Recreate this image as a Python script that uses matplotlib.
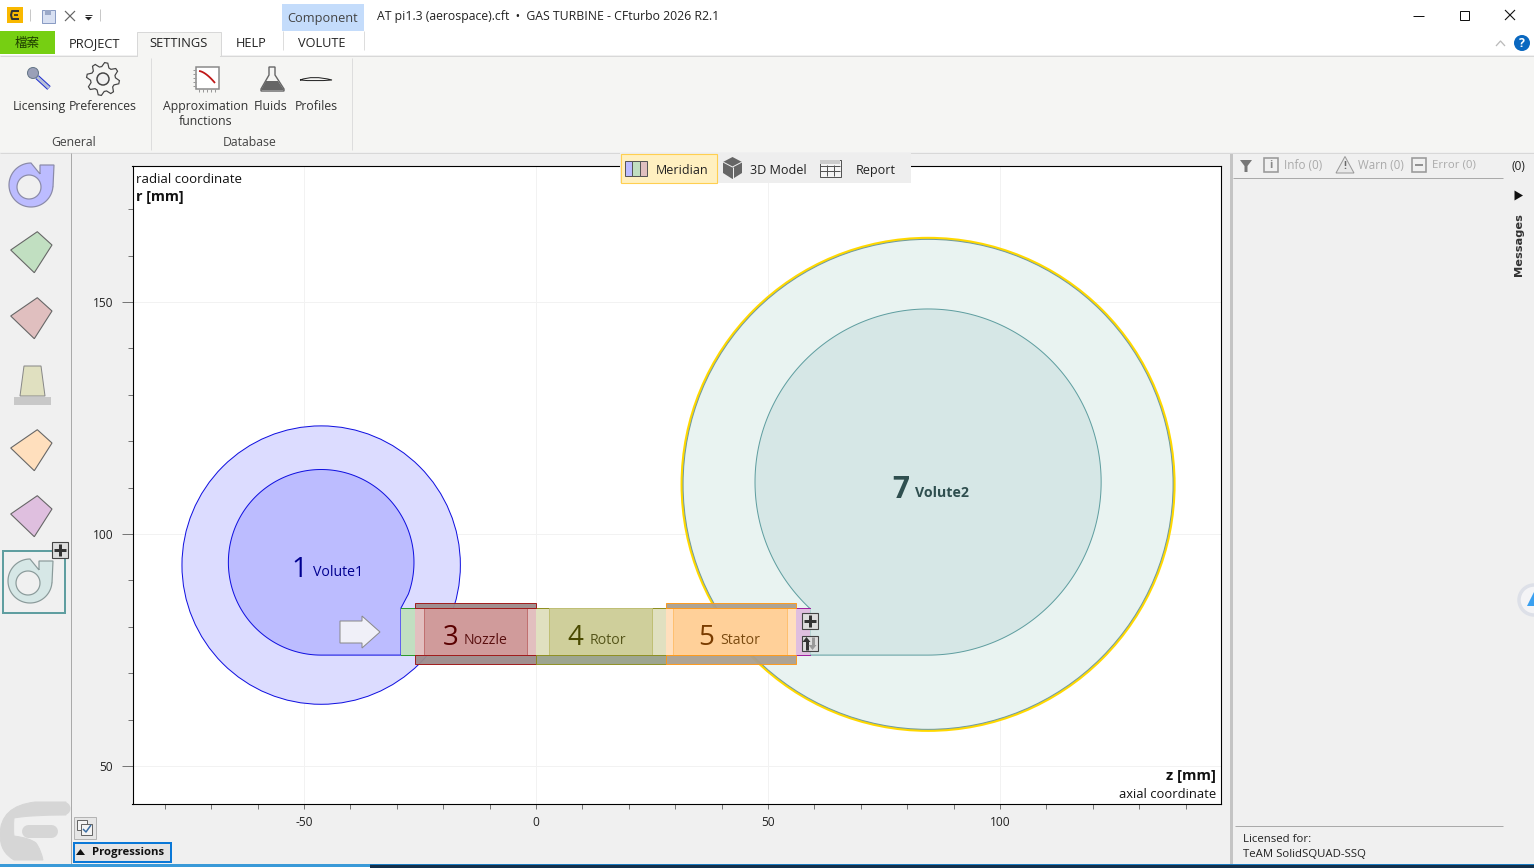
import numpy as np
import matplotlib
matplotlib.use("Agg")
import matplotlib.pyplot as plt
from matplotlib.patches import Circle, Rectangle, Polygon, PathPatch
from matplotlib.path import Path

plt.rcParams['font.family'] = ['Open Sans', 'Noto Sans CJK TC', 'DejaVu Sans']

# ---------- chart data (mm) ----------
x_major = [-50, 0, 50, 100]
x_labels = ['-50', '0', '50', '100']
y_major = [50, 100, 150]
y_labels = ['50', '100', '150']
x_minor = [-80, -70, -60, -40, -30, -20, -10, 10, 20, 30, 40, 60, 70, 80, 90, 110, 120, 130, 140]
y_minor = [60, 70, 80, 90, 110, 120, 130, 140, 160, 170]

r_hub = 73.9
r_shroud = 84.05
r_bar_top = 85.1
r_bar_bottom = 72.0

comp_names = ['Inlet', 'Nozzle', 'Rotor', 'Stator', 'Outlet']
comp_z0 = [-29.1, -26.1, 0.0, 28.0, 56.0]
comp_z1 = [-26.1, 0.0, 28.0, 56.0, 59.0]
comp_fill = ['#c1dfc1', '#e2bfbf', '#e0e0c0', '#ffdfbd', '#dfbfdf']
comp_line = ['#2e9a2e', '#a01818', '#8f8f20', '#ff9a1a', '#a020a0']
core_z0 = [None, -24.1, 2.8, 29.5, None]
core_z1 = [None, -2.0, 25.0, 54.0, None]
core_fill = [None, '#d09b9b', '#cfcf9b', '#ffd099', None]
core_line = [None, '#c07070', '#bfbf75', '#ffc070', None]
bar_fill = [None, '#9c8a8a', '#98a08a', '#aa9f8f', None]
bar_top = [False, True, False, True, False]

vol1_center = (-46.3, 93.3)
vol1_outer = 30.0
vol1_inner_center = (-46.3, 93.9)
vol1_inner = 20.0
vol2_center = (84.5, 110.7)
vol2_outer = 52.8
vol2_inner_center = (84.5, 111.2)
vol2_inner = 37.3

lab_num = ['1', '3', '4', '5', '7']
lab_name = ['Volute1', 'Nozzle', 'Rotor', 'Stator', 'Volute2']
lab_z_num = [-52.6, -20.0, 6.8, 34.9, 76.7]
lab_z_name = [-48.1, -15.5, 11.6, 39.7, 81.6]
lab_r = [92.3, 77.6, 77.6, 77.6, 109.4]
lab_r_name = [91.6, 77.0, 77.0, 77.0, 108.9]
lab_col = ['#000090', '#5a0000', '#4a4a00', '#7a3c00', '#2f4f4f']
lab_col2 = ['#000090', '#5a1010', '#55551a', '#7a4a10', '#2f4f4f']
lab_bold = [False, False, False, False, True]

W, H = 1534, 868
PX = 0.72
fig = plt.figure(figsize=(W / 100, H / 100), dpi=100, facecolor='#f0f0f0')

# ---------- main axes ----------
L, T_, R, B = 132.5, 165.5, 1220.5, 803.5
ax = fig.add_axes([L / W, 1 - B / H, (R - L) / W, (B - T_) / H], facecolor='white', zorder=1)
ax.set_xlim((L - 536) / 4.64, (R - 536) / 4.64)
ax.set_ylim(100 - (B - 534) / 4.64, 100 + (534 - T_) / 4.64)
ax.set_xticks(x_major, x_labels)
ax.set_yticks(y_major, y_labels)
ax.set_xticks(x_minor, minor=True)
ax.set_yticks(y_minor, minor=True)
ax.tick_params(which='major', length=8, width=PX, color='#777777', labelsize=8.6, pad=6, labelcolor='#222222')
ax.tick_params(which='minor', length=3.5, width=PX, color='#777777')
ax.tick_params(axis='x', which='major', length=3.5, pad=5.5)
ax.grid(True, which='major', color='#f2f2f2', lw=PX)
ax.set_axisbelow(True)
for s in ax.spines.values():
    s.set_color('black')
    s.set_linewidth(PX * 1.1)


def arc_path(center, radius, t0, t1, extra):
    th = np.radians(np.linspace(t0, t1, 240))
    pts = np.column_stack([center[0] + radius * np.cos(th), center[1] + radius * np.sin(th)])
    return np.vstack([pts, extra])


# volute 1
ax.add_patch(Circle(vol1_center, vol1_outer, fc='#dcdcff', ec='#1010e0', lw=PX, zorder=2))
ax.add_patch(Polygon(arc_path(vol1_inner_center, vol1_inner, -90, -380,
                              [[comp_z0[0], r_shroud], [comp_z0[0], r_hub]]),
                     closed=True, fc='#bcbcff', ec='#1010e0', lw=PX, zorder=3))
# volute 2
ax.add_patch(Circle(vol2_center, vol2_outer + 0.25, fc='none', ec='#ffd800', lw=2.0, zorder=2))
ax.add_patch(Circle(vol2_center, vol2_outer, fc='#e9f3f1', ec='#6f9a9c', lw=PX, zorder=2))
ax.add_patch(Polygon(arc_path(vol2_inner_center, vol2_inner, -90, 226.7,
                              [[comp_z1[4], r_shroud], [comp_z1[4], r_hub]]),
                     closed=True, fc='#d6e7e6', ec='#5f9ea0', lw=PX, zorder=3))

# blade-row blocks
for i in range(len(comp_names)):
    z0, z1 = comp_z0[i], comp_z1[i]
    ax.add_patch(Rectangle((z0, r_hub), z1 - z0, r_shroud - r_hub, fc=comp_fill[i], ec='none', zorder=4))
    ax.plot([z0, z1], [r_shroud, r_shroud], color=comp_line[i], lw=PX, zorder=5)
    ax.plot([z0, z1], [r_hub, r_hub], color=comp_line[i], lw=PX, zorder=5)
    if core_z0[i] is not None:
        ax.add_patch(Rectangle((core_z0[i], r_hub), core_z1[i] - core_z0[i], r_shroud - r_hub,
                               fc=core_fill[i], ec=core_line[i], lw=PX, zorder=5))
        ax.add_patch(Rectangle((z0, r_bar_bottom), z1 - z0, r_hub - r_bar_bottom,
                               fc=bar_fill[i], ec=comp_line[i], lw=PX, alpha=0.95, zorder=6))
        if bar_top[i]:
            ax.add_patch(Rectangle((z0, r_shroud), z1 - z0, r_bar_top - r_shroud,
                                   fc=bar_fill[i], ec=comp_line[i], lw=PX, alpha=0.95, zorder=6))

for i in range(len(lab_num)):
    big = 21.5 if lab_bold[i] else 20
    ax.text(lab_z_num[i], lab_r[i], lab_num[i], fontsize=big, color=lab_col[i], va='center', ha='left',
            fontweight='bold' if lab_bold[i] else 'normal', zorder=8)
    ax.text(lab_z_name[i], lab_r_name[i], lab_name[i], fontsize=10.2, color=lab_col2[i], va='center', ha='left',
            fontweight='bold' if lab_bold[i] else 'normal', zorder=8)

# ---------- overlay with application chrome (pixel coordinates) ----------
ui = fig.add_axes([0, 0, 1, 1], zorder=10)
ui.set_xlim(0, W)
ui.set_ylim(H, 0)
ui.axis('off')
ui.patch.set_visible(False)


def rect(x0, y0, x1, y1, fc='none', ec='none', lw=1, z=1, **k):
    ui.add_patch(Rectangle((x0, y0), x1 - x0, y1 - y0, fc=fc, ec=ec, lw=lw * PX, zorder=z, **k))


def line(xs, ys, c='#999999', lw=1, z=2, **k):
    ui.plot(xs, ys, color=c, lw=lw * PX, zorder=z, solid_capstyle=k.pop('cap', 'butt'), **k)


def poly(pts, fc='none', ec='none', lw=1, z=2):
    ui.add_patch(Polygon(pts, closed=True, fc=fc, ec=ec, lw=lw * PX, zorder=z))


def txt(x, y, s, size=9, c='#222222', ha='left', **k):
    ui.text(x, y + 1.3, s, fontsize=size, color=c, ha=ha, va='center', zorder=6, **k)


# axis captions
txt(136, 178, 'radial coordinate', 9.5, '#111111')
txt(136, 196, 'r [mm]', 10.3, '#111111', fontweight='bold')
txt(1216, 775, 'z [mm]', 10.6, '#111111', ha='right', fontweight='bold')
txt(1216, 793, 'axial coordinate', 9.4, '#111111', ha='right')

# title + ribbon bands
rect(0, 0, W, 55, fc='white', z=0)
rect(0, 56, W, 152, fc='#f5f5f3', z=0)
line([0, W], [55.5, 55.5], '#d8d8d8')
line([0, W], [152.5, 152.5], '#d8d8d8')

# quick access bar
rect(7, 7, 23, 23, fc='#f9b800')
line([19, 12, 11, 12, 19], [11, 11, 15, 19, 19], '#333333', 2, z=3)
line([14, 18], [15, 15], '#333333', 1.8, z=3)
line([30, 30], [9, 21], '#c8c8c8')
rect(41.5, 9.5, 54.5, 22.5, fc='#d8e0f2', ec='#8a9cc4')
rect(45, 9.5, 51, 15, fc='#9aa8c8')
line([65, 75], [11, 21], '#666666', 1.2)
line([65, 75], [21, 11], '#666666', 1.2)
line([85, 92], [14.5, 14.5], '#333333', 1)
poly([(85, 17), (92, 17), (88.5, 20.5)], fc='#222222')
line([100, 100], [9, 21], '#c8c8c8')

rect(282, 4, 364, 31, fc='#c4dcfb')
txt(323, 17, 'Component', 9.2, '#444444', ha='center')
txt(377, 15, 'AT pi1.3 (aerospace).cft  •  GAS TURBINE - CFturbo 2026 R2.1', 8.8, '#222222')

# tabs
rect(0, 31, 55, 54, fc='#76cf12')
txt(27, 42.5, '檔案', 9, '#1c3a00', ha='center', family=['Noto Sans CJK TC', 'DejaVu Sans'])
rect(136.5, 31.5, 220.5, 56, fc='#f5f5f3', ec='#d8d8d8', z=2)
rect(138, 50, 220, 57, fc='#f5f5f3', z=3)
line([282.5, 282.5], [31, 50], '#dddddd')
line([363.5, 363.5], [31, 50], '#dddddd')
txt(95, 42, 'PROJECT', 9.3, ha='center')
txt(178.5, 42, 'SETTINGS', 9.3, ha='center')
txt(251, 42, 'HELP', 9.2, ha='center')
txt(322, 42, 'VOLUTE', 9.2, ha='center')

# window controls
line([1413, 1424], [15.5, 15.5], '#111111', 1)
rect(1459.5, 10.5, 1468.5, 19.5, ec='#111111')
line([1505, 1515], [10, 20], '#111111', 1.1)
line([1505, 1515], [20, 10], '#111111', 1.1)
line([1496, 1500.5, 1505], [46, 41, 46], '#bbbbbb', 1.3)
ui.add_patch(Circle((1522, 43), 8, fc='#0a68c0', ec='none', zorder=3))
txt(1522, 42, '?', 9, 'white', ha='center', fontweight='bold')

# ribbon contents
line([150.5, 150.5], [58, 150], '#dddddd')
line([351.5, 351.5], [58, 150], '#dddddd')
for x, y, s in [(39, 105, 'Licensing'), (103, 105, 'Preferences'), (205.5, 105, 'Approximation'),
                (205.5, 120, 'functions'), (271, 105, 'Fluids'), (316, 105, 'Profiles'),
                (74, 141, 'General'), (250, 141, 'Database')]:
    txt(x, y, s, 8.8, '#444444' if s in ('General', 'Database') else '#333333', ha='center')
# key
line([37, 49], [77, 88], '#2030d0', 5, z=2)
line([37, 49], [77, 88], '#b8c0d8', 3, z=3)
ui.add_patch(Circle((33, 73), 5.5, fc='#9aa0b8', ec='#667788', lw=PX, zorder=4))
# gear
teeth = 8
ang = np.radians(np.arange(0, 360, 360 / (4 * teeth)) + 360 / (8 * teeth))
rad = np.tile([16.5, 16.5, 12.5, 12.5], teeth)
gx = 103 + rad * np.cos(ang)
gy = 79 + rad * np.sin(ang)
poly(np.column_stack([gx, gy]), fc='#f5f5f3', ec='#444444', lw=1.2)
ui.add_patch(Circle((103, 79), 6, fc='#f0f0f0', ec='#444444', lw=1.5 * PX, zorder=3))
# approximation icon
rect(196, 67, 219, 89, fc='white', ec='#888888', lw=1.5)
th = np.linspace(0, 1, 20)
line(199 + th * 16, 71 + 12 * th ** 1.6, '#c01818', 1.8, z=3)
for k in range(5):
    line([199 + 4 * k] * 2, [89, 92], '#999999')
    line([193, 196], [70 + 4 * k] * 2, '#999999')
# flask
poly([(269, 67), (275, 67), (275, 75), (284, 89), (284, 91), (261, 91), (261, 89), (269, 75)],
     fc='#f5f5f3', ec='#666666', lw=1.4)
poly([(266, 81), (278, 81), (284, 90), (261, 90)], fc='#666666', z=3)
# airfoil
ui.add_patch(PathPatch(Path([(300, 80), (313, 75), (332, 80), (314, 81.5), (300, 80)],
                            [Path.MOVETO, Path.CURVE3, Path.CURVE3, Path.CURVE3, Path.CURVE3]),
                       fc='#f5f5f3', ec='#222222', lw=PX, zorder=3))

# left rail + separators
line([71.0, 71.0], [153, 864], '#aaaaaa')
kite = np.array([(10.7, 250), (37.3, 231.7), (52, 245), (34.3, 272.7)])
for dy, c in zip([0, 66, 198, 264], ['#c1dfc1', '#e0bfbf', '#ffdfbd', '#dfbfdf']):
    poly(kite + [0, dy], fc=c, ec='#666666', lw=1.1)
poly([(24, 366), (41, 366), (45, 396), (20, 396)], fc='#e0e0c0', ec='#888888')
rect(14, 397, 51, 405, fc='#c8c8c8')


def volute_icon(dx, dy, fc, ec):
    t = np.radians(np.linspace(5, 270, 70))
    outer = np.column_stack([31 + dx + 22 * np.cos(t), 185 + dy + 22 * np.sin(t)])
    head = np.array([(40 + dx, 174 + dy), (40 + dx, 165 + dy), (54 + dx, 165 + dy), (53 + dx, 187 + dy)])
    pts = np.vstack([head, outer, head[:1]])
    hole_t = np.radians(np.linspace(360, 0, 60))
    hole = np.column_stack([29 + dx + 12 * np.cos(hole_t), 187 + dy + 12 * np.sin(hole_t)])
    path = Path.make_compound_path(Path(pts), Path(hole))
    ui.add_patch(PathPatch(path, fc=fc, ec=ec, lw=1.2 * PX, zorder=3))


volute_icon(0, 0, '#bcbcff', '#8a8aa8')
rect(2.5, 550.5, 65, 613, ec='#5f9ea0', lw=2, z=2)
volute_icon(-1, 396, '#d6e7e6', '#8a9a9a')


def plus_button(cx, cy):
    rect(cx - 8, cy - 8, cx + 8, cy + 8, fc='#dddddd', ec='#444444', lw=1.1, z=7)
    line([cx - 6, cx + 6], [cy, cy], '#333333', 3, z=8)
    line([cx, cx], [cy - 6, cy + 6], '#333333', 3, z=8)


plus_button(59.5, 549.5)
plus_button(809.5, 620.5)
rect(801.5, 635.5, 817.5, 651, fc='#dddddd', ec='#444444', lw=1.1, z=7)
line([806.5, 806.5], [641, 650], '#333333', 3, z=8)
poly([(802.5, 642), (810.5, 642), (806.5, 637)], fc='#333333', z=8)
line([812.5, 812.5], [637, 646], '#999999', 3, z=8)
poly([(808.5, 645), (816.5, 645), (812.5, 650)], fc='#999999', z=8)

# inflow arrow
poly([(340, 621), (362, 621), (362, 616), (380, 632), (362, 648), (362, 643), (340, 643)],
     fc='#f0f0f8', ec='#8a8a8a', z=4)

# view selector
rect(620, 153, 911, 183, fc='#eeeeee', z=2)
rect(620.5, 153.5, 716.5, 182.5, fc='#fff0c0', ec='#ffcf50', lw=1.1, z=3)
for x0, c in zip([625, 632, 639.5], ['#bcbcff', '#c1dfc1', '#e0bfbf']):
    rect(x0, 161, x0 + 7.5, 176, fc=c, ec='#555555', z=4)
txt(656, 169, 'Meridian', 9)
poly([(732.5, 157), (742, 162), (742, 173), (732.5, 179), (723, 173), (723, 162)], fc='#666666', z=4)
line([723, 732.5, 742], [162, 167, 162], '#eeeeee', z=5)
line([732.5, 732.5], [167, 179], '#eeeeee', z=5)
txt(750, 169, '3D Model', 9.1)
rect(819.5, 160, 840.5, 176.5, fc='#f4f4f4', ec='#555555', z=4)
rect(820, 160, 840, 164, fc='#cccccc', z=4)
for y in [165, 170]:
    line([820, 840], [y + .5, y + .5], '#555555', z=5)
for x in [826.5, 833.5]:
    line([x, x], [165, 176], '#555555', z=5)
txt(856, 169, 'Report', 9.1)

# right panel
rect(1230, 153, 1233, 864, fc='#c4c4c4')
poly([(1240, 160), (1252, 160), (1247.5, 166), (1247.5, 172), (1244.5, 172), (1244.5, 166)], fc='#777777')
rect(1264, 158, 1278, 172, ec='#999999', lw=1.6)
txt(1271, 164, 'i', 8, '#888888', ha='center', fontweight='bold')
txt(1284, 164, 'Info (0)', 8.5, '#aaaaaa')
poly([(1345, 156.5), (1354, 173), (1336, 173)], fc='#e8e8e8', ec='#999999')
txt(1345, 165.5, '!', 7.5, '#666666', ha='center', fontweight='bold')
txt(1358, 164, 'Warn (0)', 8.4, '#aaaaaa')
rect(1412, 158, 1426, 172, ec='#999999', lw=1.6)
line([1415, 1423], [165, 165], '#888888', 1.8)
txt(1432, 164, 'Error (0)', 8.2, '#aaaaaa')
line([1233, 1503], [177.5, 177.5], '#aaaaaa')
txt(1518, 165, '(0)', 8.6, '#222222', ha='center')
poly([(1514.5, 190.5), (1523, 195.5), (1514.5, 200.5)], fc='#111111')
ui.text(1519, 245, 'Messages', fontsize=8.2, color='#333333', rotation=90, ha='center', va='center',
        fontweight='bold', family=['DejaVu Sans'], zorder=6)
line([1235, 1503], [825.5, 825.5], '#aaaaaa')
txt(1243, 838, 'Licensed for:', 8.2, '#222222')
txt(1243, 853, 'TeAM SolidSQUAD-SSQ', 8.2, '#222222')
ui.add_patch(Circle((1534, 600), 15, fc='#f4f4f6', ec='#dde0e8', lw=2.5, zorder=3))
poly([(1527, 606), (1534, 592), (1534, 606)], fc='#3aa0f0', z=4)

# watermark logo
g = '#d6d6d6'
logo_pts = [(66, 802), (45, 802), (35, 802), (0, 806), (0, 835), (0, 852), (14, 860), (30, 860), (43, 860),
            (41, 850), (36, 843), (30, 838), (14, 836), (13, 829), (14, 818), (30, 815), (66, 815), (66, 802)]
logo_codes = [Path.MOVETO, Path.LINETO, Path.LINETO, Path.CURVE3, Path.CURVE3, Path.CURVE3, Path.CURVE3, Path.LINETO,
              Path.LINETO, Path.CURVE3, Path.CURVE3, Path.CURVE3, Path.CURVE3, Path.CURVE3, Path.CURVE3, Path.CURVE3,
              Path.LINETO, Path.CLOSEPOLY]
ui.add_patch(PathPatch(Path(logo_pts, logo_codes), fc=g, ec=g, lw=PX, zorder=1))
ui.add_patch(Circle((64, 808.5), 6.5, fc=g, ec='none', zorder=1))
line([27.5, 51], [830.5, 830.5], g, 13, z=1, cap='round')

# progress controls
rect(74, 817, 95.5, 838.5, fc='#e6e6e6', ec='#b4b4b4')
rect(77, 820, 87, 830, fc='#f4f4f4', ec='#666666', z=3)
rect(81, 824, 92, 835, fc='#f4f4f4', ec='#666666', z=4)
line([83, 86, 91], [829, 832, 825], '#3a6ea5', 1.5, z=5)
rect(74, 842.5, 170.5, 861.5, fc='#e5e5e5', ec='#0a78d7', lw=2, z=3)
poly([(76, 855), (85, 855), (80.5, 849)], fc='#111111', z=4)
txt(92, 851, 'Progressions', 8.2, '#111111', fontweight='bold')

# bottom strip
rect(0, 864, 370, 866.5, fc='#3a9ad8', z=3)
rect(0, 866.5, 370, 868, fc='white', z=3)
rect(370, 864, W, 868, fc='#14304a', z=3)
rect(370, 863.5, W, 864.6, fc='#1a7ac0', z=3)

fig.savefig('out.png', dpi=100, facecolor=fig.get_facecolor())
